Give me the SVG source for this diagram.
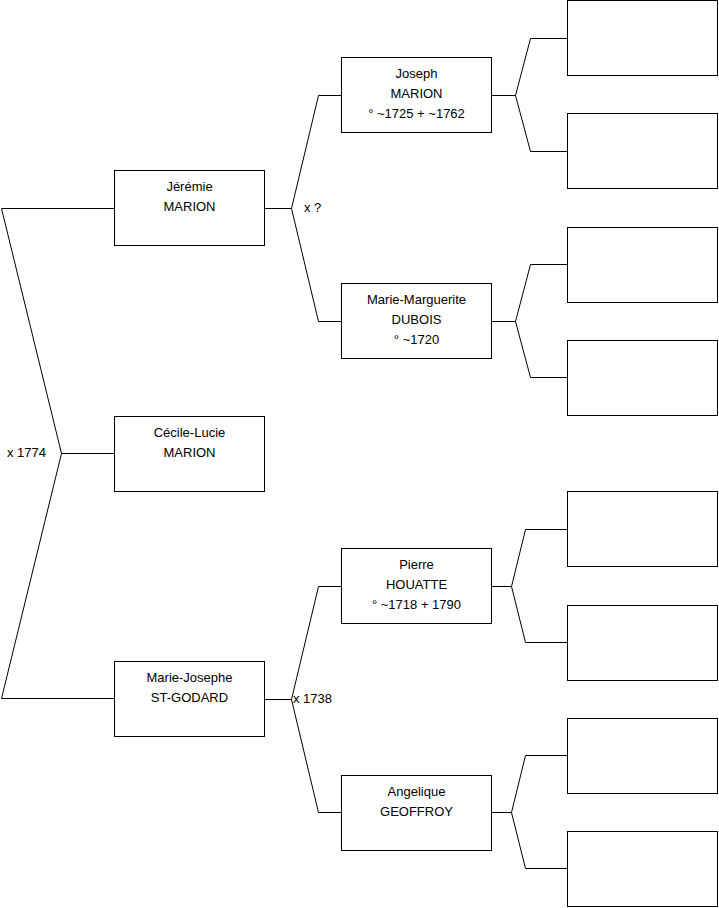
<svg xmlns="http://www.w3.org/2000/svg" width="719" height="908" viewBox="0 0 719 908">
<style>
.box{fill:#fff;stroke:#000;stroke-width:1}
.ln{fill:none;stroke:#000;stroke-width:1}
text{font-family:"Liberation Sans",Arial,sans-serif;font-size:13px;fill:#000}
.c{text-anchor:middle}
</style>
<rect width="719" height="908" fill="#fff"/>
<g id="connectors">
<polyline class="ln" points="114,208.5 1.5,208.5 61.5,453.5 1.5,698.5 114,698.5"/>
<line class="ln" x1="61.5" y1="453.5" x2="114" y2="453.5"/>
<polyline class="ln" points="341,95.5 318.5,95.5 291.5,208.5 318.5,321.5 341,321.5"/>
<line class="ln" x1="265" y1="208.5" x2="291.5" y2="208.5"/>
<polyline class="ln" points="341,586.5 318.5,586.5 291.5,699.5 318.5,812.5 341,812.5"/>
<line class="ln" x1="265" y1="699.5" x2="291.5" y2="699.5"/>
<polyline class="ln" points="567,38.5 530.5,38.5 515.5,95.5 530.5,151.5 567,151.5"/>
<line class="ln" x1="492" y1="95.5" x2="515.5" y2="95.5"/>
<polyline class="ln" points="567,264.5 530.5,264.5 515.5,321.5 530.5,377.5 567,377.5"/>
<line class="ln" x1="492" y1="321.5" x2="515.5" y2="321.5"/>
<polyline class="ln" points="567,529.5 525.5,529.5 511.5,586.5 525.5,642.5 567,642.5"/>
<line class="ln" x1="492" y1="586.5" x2="511.5" y2="586.5"/>
<polyline class="ln" points="567,755.5 525.5,755.5 511.5,812.5 525.5,868.5 567,868.5"/>
<line class="ln" x1="492" y1="812.5" x2="511.5" y2="812.5"/>
<text x="7" y="457">x 1774</text>
<text x="304" y="212">x ?</text>
<text x="293" y="703">x 1738</text>
</g>
<g id="jeremie"><rect class="box" x="114.5" y="170.5" width="150" height="75"/><text class="c" x="189.5" y="191">Jérémie</text><text class="c" x="189.5" y="211">MARION</text></g>
<g id="cecile"><rect class="box" x="114.5" y="416.5" width="150" height="75"/><text class="c" x="189.5" y="437">Cécile-Lucie</text><text class="c" x="189.5" y="457">MARION</text></g>
<g id="mariejosephe"><rect class="box" x="114.5" y="661.5" width="150" height="75"/><text class="c" x="189.5" y="682">Marie-Josephe</text><text class="c" x="189.5" y="702">ST-GODARD</text></g>
<g id="joseph"><rect class="box" x="341.5" y="57.5" width="150" height="75"/><text class="c" x="416.5" y="78">Joseph</text><text class="c" x="416.5" y="98">MARION</text><text class="c" x="416.5" y="118">° ~1725 + ~1762</text></g>
<g id="mariemarguerite"><rect class="box" x="341.5" y="283.5" width="150" height="75"/><text class="c" x="416.5" y="304">Marie-Marguerite</text><text class="c" x="416.5" y="324">DUBOIS</text><text class="c" x="416.5" y="344">° ~1720</text></g>
<g id="pierre"><rect class="box" x="341.5" y="548.5" width="150" height="75"/><text class="c" x="416.5" y="569">Pierre</text><text class="c" x="416.5" y="589">HOUATTE</text><text class="c" x="416.5" y="609">° ~1718 + 1790</text></g>
<g id="angelique"><rect class="box" x="341.5" y="775.5" width="150" height="75"/><text class="c" x="416.5" y="796">Angelique</text><text class="c" x="416.5" y="816">GEOFFROY</text></g>
<g id="g1"><rect class="box" x="567.5" y="0.5" width="150" height="75"/></g>
<g id="g2"><rect class="box" x="567.5" y="113.5" width="150" height="75"/></g>
<g id="g3"><rect class="box" x="567.5" y="227.5" width="150" height="75"/></g>
<g id="g4"><rect class="box" x="567.5" y="340.5" width="150" height="75"/></g>
<g id="g5"><rect class="box" x="567.5" y="491.5" width="150" height="75"/></g>
<g id="g6"><rect class="box" x="567.5" y="605.5" width="150" height="75"/></g>
<g id="g7"><rect class="box" x="567.5" y="718.5" width="150" height="75"/></g>
<g id="g8"><rect class="box" x="567.5" y="831.5" width="150" height="75"/></g>
</svg>
